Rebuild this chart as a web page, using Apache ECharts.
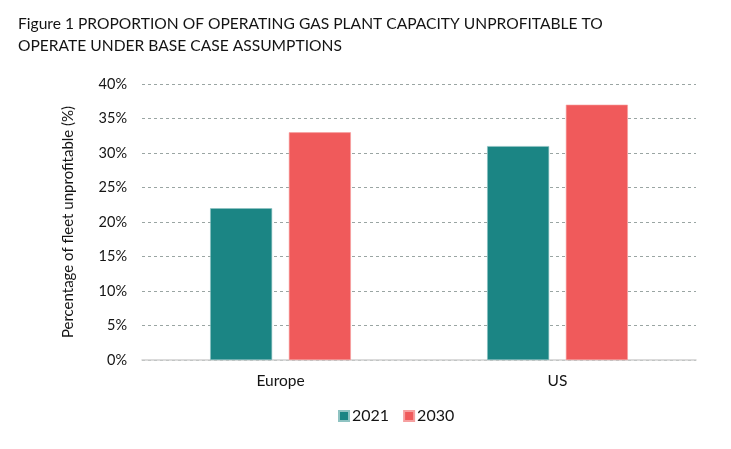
<!DOCTYPE html>
<html><head><meta charset="utf-8">
<script src="https://cdn.jsdelivr.net/npm/echarts@6/dist/echarts.min.js"></script>
<style>html,body{margin:0;padding:0;background:#fff}#c{width:731px;height:449px}</style>
</head><body><div id="c"></div>
<script>
const categories = ['Europe', 'US'];
const seriesNames = ['2021', '2030'];
const values2021 = [22, 31];
const values2030 = [33, 37];
const yTicks = [0, 5, 10, 15, 20, 25, 30, 35, 40];

const chart = echarts.init(document.getElementById('c'));
const font = 'Lato';
const ink = '#141414';
chart.setOption({
  animation: false,
  title: {
    text: 'Figure 1 PROPORTION OF OPERATING GAS PLANT CAPACITY UNPROFITABLE TO\nOPERATE UNDER BASE CASE ASSUMPTIONS',
    left: 13, top: 8,
    textStyle: { fontFamily: font, fontSize: 15.6, fontWeight: 'normal', color: ink, lineHeight: 22 }
  },
  legend: {
    data: seriesNames, top: 403, left: 333,
    itemWidth: 10, itemHeight: 10, itemGap: 14, icon: 'rect',
    textStyle: { fontFamily: font, fontSize: 16, color: ink, padding: [0,0,0,-2] }
  },
  grid: { left: 142, right: 35, top: 84, bottom: 89 },
  xAxis: {
    type: 'category', data: categories,
    axisLine: { lineStyle: { color: '#d0d0d0', width: 1.5 } },
    axisTick: { show: false },
    axisLabel: { fontFamily: font, fontSize: 15.5, color: ink, margin: 13 }
  },
  yAxis: {
    type: 'value', min: yTicks[0], max: yTicks[yTicks.length-1], interval: 5,
    name: 'Percentage of fleet unprofitable (%)', nameLocation: 'middle', nameGap: 66,
    nameTextStyle: { fontFamily: font, fontSize: 15, color: ink },
    axisLine: { show: false }, axisTick: { show: false },
    axisLabel: { fontFamily: font, fontSize: 14.5, color: ink, margin: 15, formatter: v => v + '%' },
    splitLine: { lineStyle: { color: '#9aa5a3', type: [3, 3], width: 1 } }
  },
  series: [
    { name: seriesNames[0], type: 'bar', data: values2021, barWidth: 62, barGap: '27%',
      itemStyle: { color: '#1b8584', borderColor: '#8fc3c2', borderWidth: 0.6 } },
    { name: seriesNames[1], type: 'bar', data: values2030, barWidth: 62,
      itemStyle: { color: '#f05a5b', borderColor: '#f6a0a0', borderWidth: 0.6 } }
  ]
});
</script></body></html>
